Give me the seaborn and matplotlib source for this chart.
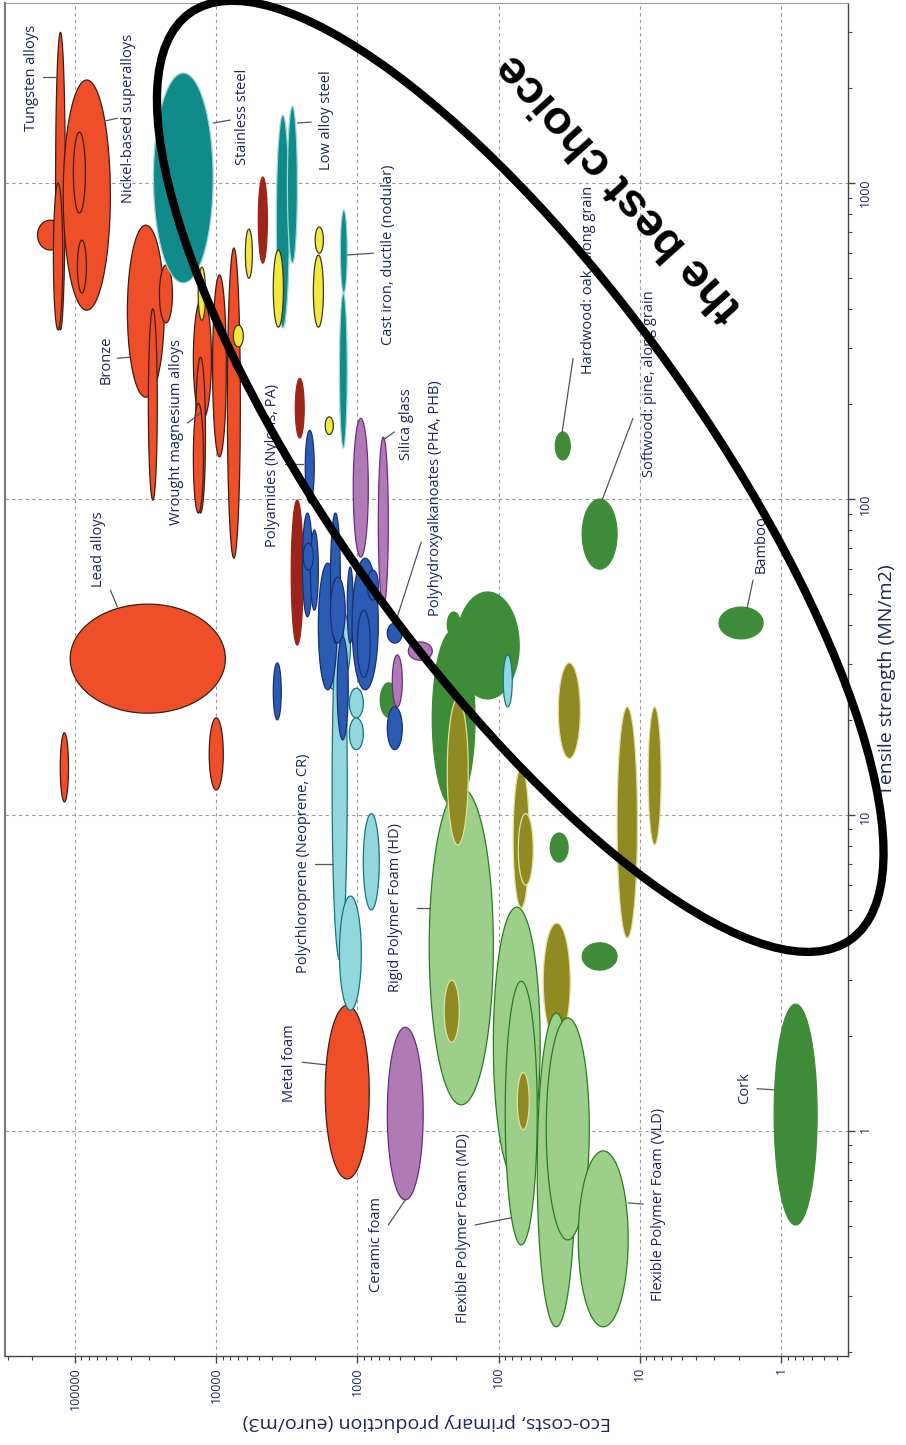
import numpy as np
import matplotlib
matplotlib.use("Agg")
import matplotlib.pyplot as plt
import matplotlib.transforms as mtransforms
from matplotlib.patches import Ellipse
from matplotlib.ticker import LogLocator, FuncFormatter, NullFormatter
import seaborn as sns

sns.set_theme(style="white")
plt.rcParams['font.family'] = ['Open Sans', 'DejaVu Sans']

# material bubbles, in drawing order: family, eco-cost range (euro/m3), tensile strength range (MN/m2)
family = ['metal', 'metal', 'metal', 'metal', 'metal', 'metal', 'metal', 'metal', 'metal', 'metal',
          'metal', 'metal', 'steel', 'metal', 'metal', 'metal', 'metal', 'metal', 'metal',
          'steel', 'steel', 'steel', 'steel',
          'zinc', 'zinc', 'zinc',
          'cast', 'cast', 'cast', 'cast', 'cast', 'cast', 'cast',
          'natural',
          'elastomer', 'elastomer', 'elastomer', 'elastomer',
          'polymer', 'polymer', 'polymer', 'polymer', 'polymer', 'polymer', 'polymer', 'polymer',
          'polymer', 'polymer', 'polymer', 'polymer', 'polymer', 'polymer', 'polymer',
          'elastomer', 'elastomer',
          'glass', 'glass', 'glass', 'glass', 'glass',
          'natural', 'natural', 'natural', 'elastomer', 'foam', 'wood', 'wood',
          'natural', 'natural', 'natural', 'natural', 'natural', 'natural',
          'wood', 'wood', 'wood', 'wood', 'wood', 'wood',
          'foam', 'foam', 'foam', 'foam', 'foam', 'wood']
eco_lo = [122000, 117000, 122000, 56100, 84300, 83000, 23300, 20400, 26100, 10800,
          11900, 12300, 10500, 8470, 6740, 8600, 111000, 8900, 824,
          3030, 2660, 1180, 1180,
          4340, 2380, 2420,
          11900, 5540, 3340, 1740, 1740, 1480, 6420,
          522,
          1120, 1180, 938, 700,
          2020, 2080, 1890, 2050, 1390, 1320, 1220, 1160,
          1070, 711, 711, 811, 481, 3460, 481,
          908, 908,
          837, 604, 295, 481, 342,
          147, 187, 71.5, 80.1, 109, 164, 190,
          32.2, 31.1, 14.5, 1.34, 0.556, 14.5,
          60.7, 56.9, 26.4, 10.4, 7.07, 31.1,
          50.8, 53.3, 28.7, 22.8, 12.1, 60.7]
eco_hi = [184000, 137000, 142000, 121000, 102500, 96000, 42500, 25200, 30200, 14500,
          14000, 14500, 27800, 10600, 8330, 108000, 127000, 11200, 1690,
          3750, 3130, 1320, 1340,
          5030, 2750, 2940,
          13400, 6210, 3940, 1990, 2050, 1690, 7550,
          689,
          1830, 1510, 1340, 908,
          2340, 2450, 2150, 2420, 1890, 1550, 1550, 1390,
          1180, 1090, 851, 1000, 614, 3940, 614,
          1140, 1140,
          1070, 711, 436, 566, 614,
          295, 231, 200, 92.8, 310, 231, 243,
          43.1, 39.7, 25.6, 2.75, 1.12, 25.6,
          78.9, 72.6, 37.8, 14.5, 8.74, 48.3,
          109, 89.8, 53.3, 46.0, 27.3, 73.8]
ts_lo = [614, 343, 343, 396, 804, 449, 210, 361, 99.3, 178,
         90.3, 90.3, 483, 136, 65.0, 21.0, 11.0, 12.0, 0.705,
         348, 558, 449, 145,
         558, 156, 34.5,
         368, 500, 350, 600, 350, 160, 303,
         20.4,
         24.9, 3.48, 2.41, 5.01,
         97.1, 42.4, 44.5, 59.6, 24.9, 35.0, 35.0, 17.3,
         35.0, 24.9, 47.9, 27.3, 35.0, 20.0, 16.1,
         20.3, 16.1,
         65.5, 45.5, 30.9, 22.0, 0.605,
         10.6, 36.6, 23.3, 22.0, 1.21, 8.04, 1.91,
         7.10, 133, 60.0, 36.1, 0.504, 3.23,
         5.08, 6.0, 15.1, 4.08, 8.04, 1.94,
         0.70, 0.436, 0.24, 0.452, 0.24, 1.01]
ts_hi = [763, 3000, 1000, 2120, 1450, 660, 736, 550, 400, 436,
         281, 201, 2230, 512, 623, 46.5, 18.2, 20.3, 2.50,
         1640, 1750, 822, 449,
         1045, 241, 99.3,
         542, 715, 614, 726, 592, 182, 355,
         26.2,
         46.9, 44.5, 5.54, 10.1,
         165, 90.3, 79.8, 72.6, 62.7, 90.3, 56.6, 36.6,
         60.9, 65.0, 59.6, 44.5, 40.5, 30.3, 22.0,
         25.2, 20.3,
         180, 157, 35.3, 32.1, 2.13,
         38.5, 43.9, 50.8, 32.1, 12.2, 23.3, 3.0,
         8.77, 163, 100, 45.5, 2.52, 3.94,
         14.1, 10.1, 30.3, 22.0, 22.0, 4.55,
         5.11, 2.98, 2.36, 2.28, 0.865, 1.53]

# labels with their leader lines
label_text = ["Tungsten alloys", "Nickel-based superalloys", "Stainless steel", "Low alloy steel",
              "Cast iron, ductile (nodular)", "Bronze", "Wrought magnesium alloys",
              "Polyamides (Nylons, PA)", "Silica glass", "Polyhydroxyalkanoates (PHA, PHB)",
              "Lead alloys", "Polychloroprene (Neoprene, CR)", "Rigid Polymer Foam (HD)",
              "Metal foam", "Ceramic foam", "Flexible Polymer Foam (MD)",
              "Flexible Polymer Foam (VLD)", "Cork", "Hardwood: oak, along grain",
              "Softwood: pine, along grain", "Bamboo"]
label_eco = [203000, 41800, 6530, 1660, 604, 59800, 19100, 4000, 451, 281, 68200,
             2420, 539, 3030, 735, 178, 7.42, 1.80, 23.2, 8.6, 1.386]
label_ts = [2150, 1605, 1617, 1583, 592, 275, 163, 128, 173, 101, 69.5,
            7.05, 5.08, 1.64, 0.436, 0.493, 0.587, 1.37, 493, 231, 72.1]
lead_eco0 = [167000, 61800, 10500, 2660, 771, 50000, 16000, 3240, 656, 353, 56100,
             1990, 377, 2450, 604, 147, 9.48, 1.48, 29.7, 11.2, 1.58]
lead_ts0 = [2165, 1571, 1549, 1549, 600, 279, 174, 129, 154, 73.1, 51.5,
            7.0, 5.08, 1.65, 0.504, 0.504, 0.587, 1.36, 279, 180, 55.4]
lead_eco1 = [137000, 50000, 7930, 2120, 1180, 41100, 12900, 2420, 548, 539, 50000,
             1480, 305, 1690, 458, 81.5, 12.1, 1.12, 35.5, 18.5, 1.74]
lead_ts1 = [2165, 1605, 1583, 1560, 592, 281, 187, 129, 163, 40.5, 45.5,
            7.0, 5.08, 1.62, 0.605, 0.531, 0.592, 1.35, 163, 99.3, 45.2]

# "the best choice" annotation
choice_eco, choice_ts = 70.3, 118
choice_text_eco, choice_text_ts = 13.8, 971

fill_col = {'metal': '#EE4F28', 'steel': '#108A8B', 'zinc': '#9C2418', 'cast': '#F3E840',
            'polymer': '#2B5CB4', 'elastomer': '#91D7DD', 'glass': '#B07AB7',
            'natural': '#3E8C38', 'wood': '#8F8A22', 'foam': '#9CCF89'}
edge_col = {'metal': '#3d1f14', 'steel': '#9fd6d6', 'zinc': '#9C2418', 'cast': '#3a3a1a',
            'polymer': '#1b2f72', 'elastomer': '#12777d', 'glass': '#6a2f7a',
            'natural': '#3E8C38', 'wood': '#e3dea0', 'foam': '#2c7b22'}
text_col = '#1e2658'

fig = plt.figure(figsize=(9.06, 14.45), dpi=100)
ax = fig.add_axes([5 / 906, 1 - 1356 / 1445, 843 / 906, 1353 / 1445])
ax.set_xscale('log')
ax.set_yscale('log')

t = np.linspace(0, 2 * np.pi, 120)
for f, e0, e1, s0, s1 in zip(family, eco_lo, eco_hi, ts_lo, ts_hi):
    cx, rx = (np.log10(e0) + np.log10(e1)) / 2, (np.log10(e1) - np.log10(e0)) / 2
    cy, ry = (np.log10(s0) + np.log10(s1)) / 2, (np.log10(s1) - np.log10(s0)) / 2
    ax.fill(10 ** (cx + rx * np.cos(t)), 10 ** (cy + ry * np.sin(t)),
            fc=fill_col[f], ec=edge_col[f], lw=0.9)

for i in range(len(label_text)):
    ax.plot([lead_eco0[i], lead_eco1[i]], [lead_ts0[i], lead_ts1[i]], color='#555555', lw=0.9)
    ax.text(label_eco[i], label_ts[i], label_text[i], rotation=90, ha='center', va='center',
            fontsize=10.5, color=text_col)

# big black ellipse
trans = fig.dpi_scale_trans + mtransforms.ScaledTranslation(choice_eco, choice_ts, ax.transData)
ax.add_patch(Ellipse((0, 0), 11.38, 3.71, angle=-54.5, transform=trans, fill=False,
                     lw=6, ec='black', clip_on=False, zorder=5))
ax.text(choice_text_eco, choice_text_ts, "the best choice", rotation=132, rotation_mode='anchor',
        ha='center', va='center', fontsize=34, fontweight='bold', family='Liberation Sans',
        color='black', zorder=6)

ax.set_xlim(312600, 0.336)
ax.set_ylim(0.194, 3715)

fmt = FuncFormatter(lambda v, p: f"{v:g}")
for axis in (ax.xaxis, ax.yaxis):
    axis.set_major_locator(LogLocator(base=10, numticks=15))
    axis.set_minor_locator(LogLocator(base=10, subs=np.arange(2, 10), numticks=100))
    axis.set_major_formatter(fmt)
    axis.set_minor_formatter(NullFormatter())

ax.yaxis.tick_right()
ax.yaxis.set_label_position('right')
ax.tick_params(which='both', direction='out', color='#444444', labelcolor=text_col,
               bottom=True, right=True, left=False, top=False)
ax.tick_params(which='major', length=5, width=1, labelsize=9)
ax.tick_params(which='minor', length=3, width=0.8)
ax.tick_params(axis='x', labelrotation=90, pad=3)
ax.tick_params(axis='y', labelrotation=90, pad=3)

ax.set_xlabel("Eco-costs, primary production (euro/m3)", rotation=180, fontsize=14,
              color=text_col, labelpad=2)
ax.set_ylabel("Tensile strength (MN/m2)", fontsize=14, color=text_col, labelpad=4)

ax.grid(True, which='major', color='#9a9a9a', linestyle=(0, (3, 3)), lw=0.8)
ax.set_axisbelow(True)
for side, c, w in [('left', '#7a7a7a', 1.5), ('top', '#9a9a9a', 0.8),
                   ('bottom', '#444444', 1.0), ('right', '#444444', 1.0)]:
    ax.spines[side].set_color(c)
    ax.spines[side].set_linewidth(w)

fig.savefig("out.png", dpi=100)
